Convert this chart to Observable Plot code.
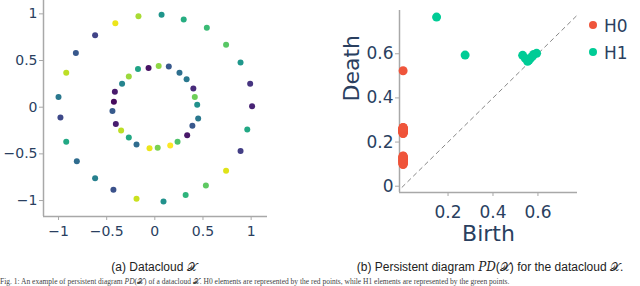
<!DOCTYPE html>
<html>
<head>
<meta charset="utf-8">
<script src="https://cdn.jsdelivr.net/npm/d3@7"></script>
<script src="https://cdn.jsdelivr.net/npm/@observablehq/plot@0.6"></script>
<style>
  body { margin: 0; background: #fff; }
  #wrap { position: relative; width: 640px; height: 286px; overflow: hidden; background: #fff; }
  #left { position: absolute; left: 0; top: 0; }
  #right { position: absolute; left: 320px; top: 0; }
  .cap { position: absolute; font-family: "Liberation Sans", Arial, sans-serif; font-size: 12px; color: #222; white-space: nowrap; transform: translateX(-50%); }
  .fig { position: absolute; left: 0; top: 277px; font-family: "Liberation Serif", serif; font-size: 7.5px; line-height: 9px; color: #444; white-space: nowrap; }
  .leg { position: absolute; font-family: "DejaVu Sans", sans-serif; font-size: 17px; color: #2a3f5f; white-space: nowrap; line-height: 20px; }
  .leg span.d { display: inline-block; width: 8px; height: 8px; border-radius: 50%; margin-right: 7px; vertical-align: middle; position: relative; top: -2px; }
  .m { font-family: "DejaVu Serif", "Liberation Serif", serif; font-style: italic; }
</style>
</head>
<body>
<div id="wrap">
  <div id="left"></div>
  <div id="right"></div>
  <div class="leg" style="left:589px; top:16px;"><span class="d" style="background:#EF553B"></span>H0</div>
  <div class="leg" style="left:589px; top:43px;"><span class="d" style="background:#00CC96"></span>H1</div>
  <div class="cap" style="left:154px; top:260px;">(a) Datacloud 𝒳</div>
  <div class="cap" style="left:490px; top:260px;">(b) Persistent diagram <span class="m">PD</span>(𝒳) for the datacloud 𝒳.</div>
  <div class="fig">Fig. 1: An example of persistent diagram <i>PD</i>(𝒳) of a datacloud 𝒳. H0 elements are represented by the red points, while H1 elements are represented by the green points.</div>
</div>
<script>
// ---- Left panel: datacloud (outer and inner circles) ----
const outerX = [-0.41,-0.17,0.07,0.30,0.54,0.74,0.89,0.99,1.01,0.96,0.89,0.74,0.53,0.32,0.09,-0.19,-0.43,-0.62,-0.81,-0.92,-0.98,-1.0,-0.92,-0.82,-0.62];
const outerY = [0.90,0.975,0.99,0.94,0.85,0.67,0.48,0.25,0.01,-0.24,-0.47,-0.68,-0.84,-0.94,-1.01,-0.98,-0.885,-0.76,-0.58,-0.37,-0.11,0.11,0.37,0.58,0.77];
const outerC = [0.97,0.87,0.52,0.62,0.68,0.74,0.53,0.15,0.1,0.6,0.18,0.95,0.75,0.65,0.5,0.92,0.25,0.43,0.35,0.6,0.22,0.4,0.9,0.27,0.2];
const innerX = [-0.065,0.04,0.145,0.256,0.33,0.40,0.415,0.44,0.45,0.39,0.336,0.236,0.16,0.03,-0.055,-0.19,-0.27,-0.35,-0.405,-0.44,-0.425,-0.415,-0.34,-0.27,-0.175];
const innerY = [0.42,0.44,0.436,0.37,0.30,0.20,0.11,0.026,-0.12,-0.20,-0.30,-0.37,-0.41,-0.435,-0.44,-0.40,-0.325,-0.25,-0.18,-0.04,0.058,0.165,0.25,0.33,0.41];
const innerC = [0.05,0.83,0.27,0.36,0.4,0.12,0.78,0.5,0.4,0.27,0.06,0.72,1.0,0.8,0.97,0.35,0.6,0.9,0.08,0.28,0.03,0.07,0.45,0.85,0.58];
const leftTicks = [-1, -0.5, 0, 0.5, 1];

// ---- Right panel: persistence diagram ----
const h0Death = [0.523,
  0.098,0.100,0.103,0.105,0.106,0.108,0.110,0.112,0.113,0.115,0.116,0.118,0.119,0.121,0.123,0.124,0.126,0.128,0.129,0.131,0.132,0.134,0.136,0.137,
  0.239,0.240,0.242,0.244,0.245,0.246,0.248,0.249,0.250,0.251,0.252,0.254,0.255,0.256,0.257,0.258,0.259,0.260,0.261,0.262,0.263,0.264,0.265,0.266];
const h1Birth = [0.149,0.276,0.532,0.581,0.554,0.544,0.566,0.594,0.560,0.575];
const h1Death = [0.766,0.594,0.593,0.597,0.566,0.579,0.579,0.602,0.572,0.588];
const diag = [-0.03, 0.8];
const rightYTicks = [0, 0.2, 0.4, 0.6];
const rightXTicks = [0.2, 0.4, 0.6];

const fmt = d => String(d).replace("-", "\u2212");
const navy = "#2a3f5f";
const axisGray = "#a8a8a8";

const cloud = [
  ...outerX.map((x, i) => ({x, y: outerY[i], c: outerC[i]})),
  ...innerX.map((x, i) => ({x, y: innerY[i], c: innerC[i]}))
];
const lxd = [-1.156, 1.17], lyd = [-1.171, 1.143];

const left = Plot.plot({
  width: 290, height: 250,
  marginLeft: 43, marginRight: 23, marginTop: 0, marginBottom: 34,
  style: {fontFamily: "DejaVu Sans, sans-serif", fontSize: "14px", background: "white"},
  x: {domain: lxd},
  y: {domain: lyd},
  color: {type: "linear", scheme: "viridis", domain: [0, 1]},
  marks: [
    Plot.axisX({ticks: leftTicks, tickFormat: fmt, tickSize: 4, tickPadding: 6, stroke: axisGray, fill: navy, label: null, fontSize: 14}),
    Plot.axisY({ticks: leftTicks, tickFormat: fmt, tickSize: 4, tickPadding: 2, stroke: axisGray, fill: navy, label: null, fontSize: 14}),
    Plot.ruleX([lxd[0]], {stroke: axisGray, strokeWidth: 1.5}),
    Plot.ruleY([lyd[0]], {stroke: axisGray, strokeWidth: 1.5}),
    Plot.dot(cloud, {x: "x", y: "y", fill: "c", r: 3})
  ]
});
document.getElementById("left").appendChild(left);

const h0 = h0Death.map(d => ({b: 0, d}));
const h1 = h1Birth.map((b, i) => ({b, d: h1Death[i]}));
const rxd = [-0.016, 0.776], ryd = [-0.0285, 0.796];

const right = Plot.plot({
  width: 320, height: 250,
  marginLeft: 79, marginRight: 63, marginTop: 10, marginBottom: 58,
  style: {fontFamily: "DejaVu Sans, sans-serif", fontSize: "17px", background: "white"},
  x: {domain: rxd},
  y: {domain: ryd},
  marks: [
    Plot.axisX({ticks: rightXTicks, tickFormat: fmt, tickSize: 4, tickPadding: 9, stroke: axisGray, fill: navy, label: null, fontSize: 17}),
    Plot.axisY({ticks: rightYTicks, tickFormat: fmt, tickSize: 4, tickPadding: 2, stroke: axisGray, fill: navy, label: null, fontSize: 17}),
    Plot.ruleX([rxd[0]], {stroke: axisGray, strokeWidth: 1.5}),
    Plot.ruleY([ryd[0]], {stroke: axisGray, strokeWidth: 1.5}),
    Plot.line(diag.map(v => [v, v]), {stroke: "#888", strokeWidth: 1, strokeDasharray: "4,4", clip: true}),
    Plot.dot(h0, {x: "b", y: "d", fill: "#EF553B", r: 4.5}),
    Plot.dot(h1, {x: "b", y: "d", fill: "#00CC96", r: 4.5}),
    Plot.text(["Death"], {frameAnchor: "left", dx: -48, rotate: -90, fontSize: 22, fill: navy}),
    Plot.text(["Birth"], {frameAnchor: "bottom", dy: 48, fontSize: 22, fill: navy})
  ]
});
document.getElementById("right").appendChild(right);
</script>
</body>
</html>
